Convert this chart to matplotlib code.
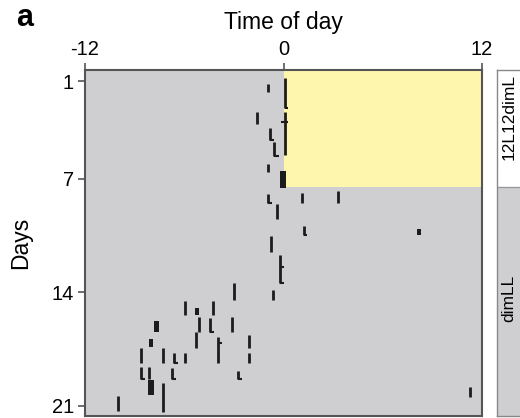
import numpy as np
import matplotlib.pyplot as plt

plt.rcParams['font.family'] = ['Liberation Sans', 'DejaVu Sans']
plt.rcParams['axes.unicode_minus'] = False

# activity marks: hour of day, start day, end day
bar_hour = [-0.93, 0.08, -1.59, 0.08, -0.79, -0.56, -0.93,
            -0.93, -0.38, 1.09, 3.27, 1.21, -0.73, -0.24, -0.61, -2.97, 11.27,
            -5.94, -4.26, -5.09, -4.42, -3.09, -5.27, -3.96, -2.08, -2.08,
            -8.61, -7.27, -6.62, -5.94, -8.61, -8.12, -6.75, -2.75, -7.27, -10.0]
bar_start = [1.18, 0.82, 2.91, 2.91, 3.89, 4.75, 6.11,
             7.95, 8.57, 7.89, 7.77, 9.92, 10.54, 11.71, 13.86, 13.43, 19.83,
             14.54, 14.54, 15.52, 15.58, 15.52, 16.45, 16.75, 16.63, 17.74,
             17.43, 17.43, 17.74, 17.74, 18.6, 18.6, 18.66, 18.85, 19.58, 20.38]
bar_end = [1.68, 2.66, 3.65, 5.55, 4.63, 5.62, 6.6,
           8.51, 9.49, 8.51, 8.51, 10.48, 11.52, 13.43, 14.48, 14.48, 20.45,
           15.4, 15.4, 16.45, 16.45, 16.45, 17.43, 18.35, 17.43, 18.35,
           18.35, 18.35, 18.35, 18.35, 19.34, 19.34, 19.34, 19.34, 21.37, 21.31]

# dense bouts: hour from, hour to, start day, end day
block_h0 = [-0.2, 8.05, -5.35, -7.85, -8.15, -8.2]
block_h1 = [0.15, 8.3, -5.1, -7.55, -7.9, -7.85]
block_start = [6.54, 10.11, 14.97, 15.77, 16.88, 19.4]
block_end = [7.58, 10.48, 15.4, 16.45, 17.37, 20.32]

# short horizontal offsets: hour from, hour to, day
foot_h0 = [0.08, -0.15, -0.79, -0.56, -0.93, 1.21, -0.24, -0.24, -4.42,
           -3.96, -6.62, -8.61, -6.75, -2.75]
foot_h1 = [0.3, 0.3, -0.55, -0.3, -0.7, 1.45, 0.05, 0.05, -4.18,
           -3.7, -6.38, -8.35, -6.5, -2.5]
foot_day = [2.66, 3.52, 4.63, 5.62, 8.51, 10.48, 12.45, 13.43, 16.45,
            17.15, 18.35, 19.34, 19.34, 19.34]

light_start = 0
light_end = 12
light_days = 7.55
day_top, day_bottom = 0.32, 21.62

gray = '#cfcfd1'
yellow = '#fff6ad'
edge = '#555555'
ink = '#1c1c1c'

fig = plt.figure(figsize=(5.2, 4.18), dpi=100)
ax = fig.add_axes([85 / 520, 2 / 418, 397 / 520, 346 / 418])
ax.set_facecolor(gray)
ax.set_xlim(-12, 12)
ax.set_ylim(day_bottom, day_top)

ax.fill_between([light_start, light_end], day_top, light_days, color=yellow, lw=0)

ax.vlines(bar_hour, bar_start, bar_end, colors=ink, lw=2.0)
ax.bar(block_h0, np.subtract(block_end, block_start),
       width=np.subtract(block_h1, block_h0), bottom=block_start,
       align='edge', color=ink, lw=0)
ax.hlines(foot_day, foot_h0, foot_h1, colors=ink, lw=1.5)

ax.xaxis.tick_top()
ax.xaxis.set_label_position('top')
ax.set_xticks([-12, 0, 12])
ax.set_yticks([1, 7, 14, 21])
ax.tick_params(direction='out', length=5, width=1.2, color=edge,
               labelsize=14.5, pad=3)
ax.set_xlabel('Time of day', fontsize=16.5, labelpad=8)
ax.set_ylabel('Days', fontsize=16.5, labelpad=14)
for s in ax.spines.values():
    s.set_color(edge)
    s.set_linewidth(1.5)

# condition strip
sax = fig.add_axes([497 / 520, 2 / 418, 40 / 520, 346 / 418])
sax.set_xlim(0, 1)
sax.set_ylim(day_bottom, day_top)
sax.fill_between([0, 1], day_top, light_days, color='white', lw=0)
sax.fill_between([0, 1], light_days, day_bottom, color=gray, lw=0)
sax.axhline(light_days, color='#999999', lw=1)
sax.set_xticks([])
sax.set_yticks([])
for s in sax.spines.values():
    s.set_color('#888888')
    s.set_linewidth(1)
sax.text(0.3, 3.2, '12L12dimL', rotation=90, ha='center', va='center', fontsize=12.5)
sax.text(0.3, 14.4, 'dimLL', rotation=90, ha='center', va='center', fontsize=12.5)

fig.text(25 / 520, 1 - 18 / 418, 'a', fontsize=22, fontweight='bold',
         ha='center', va='center')

fig.savefig('out.png', dpi=100)
